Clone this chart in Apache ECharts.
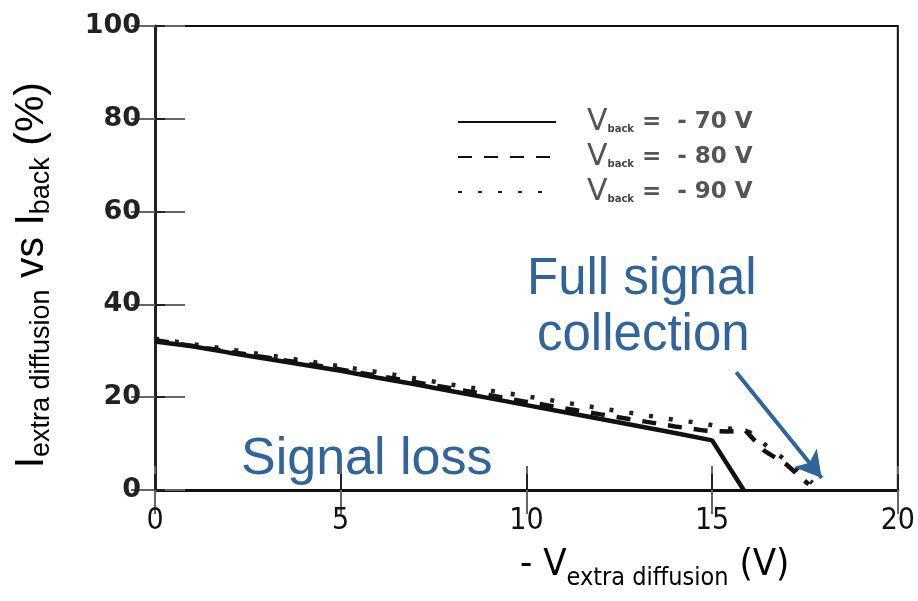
<!DOCTYPE html>
<html>
<head>
<meta charset="utf-8">
<script src="https://cdn.jsdelivr.net/npm/echarts@6/dist/echarts.min.js"></script>
<style>
  html, body { margin: 0; padding: 0; background: #fff; }
  #chart { width: 918px; height: 601px; }
</style>
</head>
<body>
<div id="chart"></div>
<script>
// V_back = -70 V (solid)
const x70 = [0, 1, 2, 3, 4, 5, 6, 7, 8, 9, 10, 11, 12, 13, 14, 15, 15.85]
const y70 = [32, 31, 29.6, 28.3, 27, 25.7, 24.2, 22.8, 21.3, 19.8, 18.3, 16.8, 15.3, 13.8, 12.3, 10.7, 0]
// V_back = -80 V (dashed)
const x80 = [0, 2, 4, 6, 8, 10, 12, 13, 14, 14.8, 15.4, 15.9, 16.4, 17, 17.6]
const y80 = [32.3, 29.8, 27.3, 24.6, 21.9, 19, 16.3, 15, 13.7, 12.8, 12.6, 12.8, 8.5, 5.5, 1.2]
// V_back = -90 V (dotted)
const x90 = [0, 2, 4, 6, 8, 10, 12, 13, 14, 14.7, 16, 16.5, 17, 17.7]
const y90 = [32.6, 30.3, 27.9, 25.4, 22.7, 20.2, 17.6, 16.4, 15.1, 14.4, 12.5, 9.3, 6.3, 1.5]

const seriesNames = ['-70', '-80', '-90']
const xTicks = [0, 20, 5]   // min, max, interval
const yTicks = [0, 100, 20]

// arrow annotation in data units
const arrowFrom = [15.65, 25.4]
const arrowTo = [17.95, 2.6]

const chart = echarts.init(document.getElementById('chart'))

const pair = (xs, ys) => xs.map((x, i) => [x, ys[i]])
const blue = '#30649a'
const narrow = "'Liberation Sans Narrow', 'DejaVu Sans Condensed', sans-serif"

// 坐标轴（外侧/内侧刻度各一条）
function xAx(position, inside, len, showLabel) {
  return {
    type: 'value', position, min: xTicks[0], max: xTicks[1], interval: xTicks[2],
    axisLine: { show: position === 'bottom' && !inside, lineStyle: { color: '#111', width: 3 } },
    axisTick: { show: true, inside, length: len, lineStyle: { color: inside ? '#666' : '#222', width: 2 } },
    axisLabel: { show: showLabel, color: '#111', fontSize: 30, fontFamily: narrow, margin: 16 },
    splitLine: { show: false }
  }
}
function yAx(position, inside, len, showLabel) {
  return {
    type: 'value', position, min: yTicks[0], max: yTicks[1], interval: yTicks[2],
    axisLine: { show: position === 'left' && !inside, lineStyle: { color: '#222', width: 3 } },
    axisTick: { show: true, inside, length: len, lineStyle: { color: inside ? '#666' : '#222', width: 2 } },
    axisLabel: { show: showLabel, color: '#222', fontSize: 27, fontWeight: 'bold', fontFamily: 'DejaVu Sans', margin: 14 },
    splitLine: { show: false }
  }
}

const lineStyles = [
  { color: '#111', width: 4.5, type: 'solid' },
  { color: '#111', width: 4.5, type: [14, 12] },
  { color: '#222', width: 4.5, type: [4, 16] }
]
const dataSets = [pair(x70, y70), pair(x80, y80), pair(x90, y90)]

const series = seriesNames.map((name, i) => ({
  name,
  type: 'line',
  xAxisIndex: 0,
  yAxisIndex: 0,
  data: dataSets[i],
  symbol: 'none',
  lineStyle: lineStyles[i],
  itemStyle: { color: '#111' },
  z: 3 - i
}))
series[0].markLine = {
  silent: true,
  symbol: ['none', 'arrow'],
  symbolSize: [22, 26],
  label: { show: false },
  lineStyle: { color: blue, width: 4, type: 'solid' },
  data: [[{ coord: arrowFrom }, { coord: arrowTo }]]
}

const option = {
  backgroundColor: '#fff',
  animation: false,
  grid: {
    left: 155, right: 18, top: 26, bottom: 111,
    show: true, borderColor: '#111', borderWidth: 2
  },
  xAxis: [
    xAx('bottom', false, 6, true),
    xAx('bottom', true, 24, false),
    xAx('top', false, 16, false),
    xAx('top', true, 24, false)
  ],
  yAxis: [
    yAx('left', false, 8, true),
    yAx('left', true, 30, false),
    yAx('right', false, 10, false),
    yAx('right', true, 24, false)
  ],
  legend: {
    orient: 'vertical',
    left: 452,
    top: 102,
    itemWidth: 98,
    itemHeight: 6,
    itemGap: 5,
    itemStyle: { opacity: 0 },
    data: seriesNames,
    formatter: name => `{v|V}{s|back}{t| =  - ${name.slice(1)} V}`,
    textStyle: {
      rich: {
        v: { fontSize: 30, color: '#555', fontFamily: 'DejaVu Sans', padding: [0, 0, 0, 26], lineHeight: 25 },
        s: { fontSize: 10, color: '#444', fontFamily: 'DejaVu Sans', lineHeight: 10, padding: [14, 0, 0, 0], fontWeight: 'bold' },
        t: { fontSize: 23, color: '#555', fontFamily: 'DejaVu Sans', fontWeight: 'bold', lineHeight: 25 }
      }
    }
  },
  graphic: [
    {
      type: 'text', left: 520, top: 546, silent: true,
      style: {
        text: '{m|- V}{s|extra diffusion}{m| (V)}',
        rich: {
          m: { fontSize: 38, color: '#333', fontFamily: narrow, lineHeight: 44 },
          s: { fontSize: 25, color: '#333', fontFamily: narrow, padding: [26, 0, 0, 0] }
        }
      }
    },
    {
      type: 'text', left: 11, top: 82, rotation: Math.PI / 2, silent: true,
      style: {
        text: '{m|I}{s|extra diffusion}{m| vs I}{s|back}{m| (%)}',
        rich: {
          m: { fontSize: 41, color: '#555', fontFamily: 'Liberation Sans', lineHeight: 44 },
          s: { fontSize: 27, color: '#555', fontFamily: 'Liberation Sans', padding: [21, 0, 0, 0] }
        }
      }
    },
    {
      type: 'text', left: 527, top: 254, silent: true,
      style: { text: 'Full signal', fill: blue, fontSize: 51, fontFamily: 'Liberation Sans' }
    },
    {
      type: 'text', left: 537, top: 310, silent: true,
      style: { text: 'collection', fill: blue, fontSize: 51, fontFamily: 'Liberation Sans' }
    },
    {
      type: 'text', left: 241, top: 434, silent: true,
      style: { text: 'Signal loss', fill: blue, fontSize: 52, fontFamily: 'Liberation Sans' }
    }
  ],
  series
}

chart.setOption(option)
</script>
</body>
</html>
